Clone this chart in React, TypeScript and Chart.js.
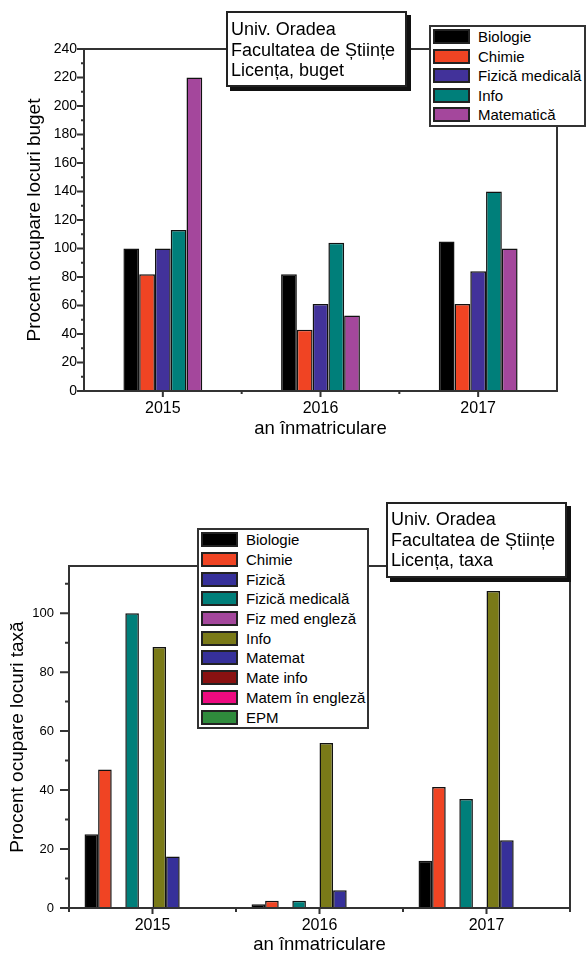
import React, { useEffect, useRef } from "react";
import { Chart, registerables } from "chart.js";

Chart.register(...registerables);

const FONT = "'Liberation Sans', Arial, Helvetica, sans-serif";

// ---------- shared ----------
const years = ["2015", "2016", "2017"];
const xTitle = "an înmatriculare";

// ---------- chart 1: buget ----------
const bugetTitle = ["Univ. Oradea", "Facultatea de Științe", "Licența, buget"];
const bugetYTitle = "Procent ocupare locuri buget";
const bugetLabels = ["Biologie", "Chimie", "Fizică medicală", "Info", "Matematică"];
const bugetColors = ["#000000", "#f04423", "#42329a", "#007f7a", "#a4479c"];
const bugetBiologie = [100, 82, 105];
const bugetChimie = [82, 43, 61];
const bugetFizMed = [100, 61, 84];
const bugetInfo = [113, 104, 140];
const bugetMatematica = [220, 53, 100];
const bugetSeries = [bugetBiologie, bugetChimie, bugetFizMed, bugetInfo, bugetMatematica];
const bugetYMax = 240;
const bugetYStep = 20;

// ---------- chart 2: taxa ----------
const taxaTitle = ["Univ. Oradea", "Facultatea de Științe", "Licența, taxa"];
const taxaYTitle = "Procent ocupare locuri taxă";
const taxaLabels = [
  "Biologie",
  "Chimie",
  "Fizică",
  "Fizică medicală",
  "Fiz med engleză",
  "Info",
  "Matemat",
  "Mate info",
  "Matem în engleză",
  "EPM",
];
const taxaColors = [
  "#000000",
  "#f04423",
  "#36309a",
  "#007f7a",
  "#a4479c",
  "#7a7a18",
  "#36309a",
  "#8a1111",
  "#ee0a80",
  "#2f8b3c",
];
const taxaBiologie = [25, 1.3, 16];
const taxaChimie = [47, 2.5, 41];
const taxaFizica = [0, 0, 0];
const taxaFizMed = [100, 2.5, 37];
const taxaFizMedEng = [0, 0, 0];
const taxaInfo = [88.5, 56, 107.5];
const taxaMatemat = [17.5, 6, 23];
const taxaMateInfo = [0, 0, 0];
const taxaMatemEng = [0, 0, 0];
const taxaEPM = [0, 0, 0];
const taxaSeries = [
  taxaBiologie,
  taxaChimie,
  taxaFizica,
  taxaFizMed,
  taxaFizMedEng,
  taxaInfo,
  taxaMatemat,
  taxaMateInfo,
  taxaMatemEng,
  taxaEPM,
];
const taxaYMax = 116;
const taxaYStep = 20;

type FrameCfg = {
  yMajor: number;
  yMinor: number;
  xMajor: number;
  xMinor: number;
  xEnds: boolean;
};

function framePlugin(cfg: FrameCfg) {
  return {
    id: "frameTicks",
    afterDraw(chart: any) {
      const { ctx, chartArea: a, scales } = chart;
      const xs = scales.x;
      const ys = scales.y;
      ctx.save();
      ctx.strokeStyle = "#333333";
      ctx.lineWidth = 2;
      ctx.lineCap = "butt";
      ctx.strokeRect(a.left, a.top, a.right - a.left, a.bottom - a.top);
      ctx.beginPath();
      const tv = ys.ticks.map((t: any) => t.value);
      tv.forEach((v: number) => {
        const p = ys.getPixelForValue(v);
        ctx.moveTo(a.left - cfg.yMajor, p);
        ctx.lineTo(a.left, p);
      });
      const step = tv.length > 1 ? tv[1] - tv[0] : 10;
      for (let v = tv[0] + step / 2; v < ys.max; v += step) {
        const p = ys.getPixelForValue(v);
        ctx.moveTo(a.left - cfg.yMinor, p);
        ctx.lineTo(a.left, p);
      }
      const n = xs.ticks.length;
      for (let i = 0; i < n; i++) {
        const p = xs.getPixelForValue(i);
        ctx.moveTo(p, a.bottom);
        ctx.lineTo(p, a.bottom + cfg.xMajor);
        if (i < n - 1) {
          const q = (p + xs.getPixelForValue(i + 1)) / 2;
          ctx.moveTo(q, a.bottom);
          ctx.lineTo(q, a.bottom + cfg.xMinor);
        }
      }
      if (cfg.xEnds) {
        ctx.moveTo(a.left, a.bottom);
        ctx.lineTo(a.left, a.bottom + cfg.xMinor);
        ctx.moveTo(a.right, a.bottom);
        ctx.lineTo(a.right, a.bottom + cfg.xMinor);
      }
      ctx.stroke();
      ctx.restore();
    },
  };
}

type ChartProps = {
  top: number;
  height: number;
  labels: string[];
  colors: string[];
  series: number[][];
  yMax: number;
  yStep: number;
  yTitle: string;
  yTitlePad: number;
  yTickSize: number;
  yTickPad: number;
  yWidth: number;
  padTop: number;
  padRight: number;
  padBottom: number;
  xHeight: number;
  xTitlePad: number;
  catPct: number;
  frame: FrameCfg;
};

function BarChart(p: ChartProps) {
  const ref = useRef<HTMLCanvasElement | null>(null);
  useEffect(() => {
    if (!ref.current) return;
    const chart = new Chart(ref.current, {
      type: "bar",
      data: {
        labels: years,
        datasets: p.labels.map((l, i) => ({
          label: l,
          data: p.series[i],
          backgroundColor: p.colors[i],
          borderColor: "#111111",
          borderWidth: 1.5,
          categoryPercentage: p.catPct,
          barPercentage: 1,
        })),
      },
      options: {
        responsive: false,
        animation: false,
        devicePixelRatio: 1,
        layout: { padding: { top: p.padTop, right: p.padRight, bottom: p.padBottom, left: 0 } },
        plugins: { legend: { display: false }, tooltip: { enabled: false } },
        scales: {
          x: {
            type: "category",
            offset: true,
            grid: { display: false, drawTicks: false },
            border: { display: false },
            ticks: { font: { size: 16, family: FONT }, color: "#000", padding: 8, maxRotation: 0, autoSkip: false },
            title: {
              display: true,
              text: xTitle,
              color: "#000",
              font: { size: 18.5, family: FONT },
              padding: { top: 0, bottom: p.xTitlePad },
            },
            afterFit: (s: any) => {
              s.height = p.xHeight;
            },
          },
          y: {
            min: 0,
            max: p.yMax,
            grid: { display: false, drawTicks: false },
            border: { display: false },
            ticks: {
              stepSize: p.yStep,
              includeBounds: false,
              font: { size: p.yTickSize, family: FONT },
              color: "#000",
              padding: p.yTickPad,
            },
            title: {
              display: true,
              text: p.yTitle,
              color: "#000",
              font: { size: 19, family: FONT },
              padding: { top: p.yTitlePad, bottom: 0 },
            },
            afterFit: (s: any) => {
              s.width = p.yWidth;
            },
          },
        },
      } as any,
      plugins: [framePlugin(p.frame)],
    });
    return () => chart.destroy();
  }, []);
  return (
    <canvas
      ref={ref}
      width={586}
      height={p.height}
      style={{ position: "absolute", left: 0, top: p.top, width: 586, height: p.height }}
    />
  );
}

function TitleBox(props: { left: number; top: number; lines: string[]; padTop: number }) {
  return (
    <div
      style={{
        position: "absolute",
        left: props.left,
        top: props.top,
        width: 181,
        height: 76,
        boxSizing: "border-box",
        border: "2px solid #222",
        background: "#fff",
        boxShadow: "4px 4px 0 #111",
        paddingTop: props.padTop,
        paddingLeft: 3,
        fontFamily: FONT,
        fontSize: 18,
        lineHeight: "20.5px",
        color: "#000",
        whiteSpace: "nowrap",
      }}
    >
      {props.lines.map((l, i) => (
        <div key={i}>{l}</div>
      ))}
    </div>
  );
}

function Legend(props: { left: number; top: number; width: number; labels: string[]; colors: string[]; rowH: number }) {
  return (
    <div
      style={{
        position: "absolute",
        left: props.left,
        top: props.top,
        width: props.width,
        boxSizing: "border-box",
        border: "2px solid #333",
        background: "#fff",
        fontFamily: FONT,
        fontSize: 15,
        color: "#000",
        whiteSpace: "nowrap",
      }}
    >
      {props.labels.map((l, i) => (
        <div key={i} style={{ display: "flex", alignItems: "center", height: props.rowH }}>
          <div
            style={{
              width: 37,
              height: 15,
              boxSizing: "border-box",
              border: "2px solid #222",
              background: props.colors[i],
              marginLeft: 2,
              marginRight: 8,
              flex: "none",
            }}
          />
          <span>{l}</span>
        </div>
      ))}
    </div>
  );
}

export default function App() {
  return (
    <div
      style={{
        position: "fixed",
        left: 0,
        top: 0,
        width: 586,
        height: 953,
        overflow: "hidden",
        background: "#fff",
      }}
    >
      <BarChart
        top={0}
        height={470}
        labels={bugetLabels}
        colors={bugetColors}
        series={bugetSeries}
        yMax={bugetYMax}
        yStep={bugetYStep}
        yTitle={bugetYTitle}
        yTitlePad={23.6}
        yTickSize={14}
        yTickPad={7}
        yWidth={84}
        padTop={49}
        padRight={29}
        padBottom={19}
        xHeight={60}
        xTitlePad={10.9}
        catPct={0.5}
        frame={{ yMajor: 7, yMinor: 3, xMajor: 6, xMinor: 3, xEnds: false }}
      />
      <BarChart
        top={476}
        height={484}
        labels={taxaLabels}
        colors={taxaColors}
        series={taxaSeries}
        yMax={taxaYMax}
        yStep={taxaYStep}
        yTitle={taxaYTitle}
        yTitlePad={6.6}
        yTickSize={13}
        yTickPad={15}
        yWidth={69}
        padTop={90}
        padRight={16}
        padBottom={0}
        xHeight={52}
        xTitlePad={3.9}
        catPct={0.814}
        frame={{ yMajor: 9, yMinor: 4, xMajor: 6, xMinor: 4, xEnds: true }}
      />
      <TitleBox left={226} top={11} lines={bugetTitle} padTop={6} />
      <Legend left={429} top={25} width={157} labels={bugetLabels} colors={bugetColors} rowH={19.5} />
      <TitleBox left={386} top={502} lines={taxaTitle} padTop={5} />
      <Legend left={197} top={528} width={172} labels={taxaLabels} colors={taxaColors} rowH={19.7} />
    </div>
  );
}
